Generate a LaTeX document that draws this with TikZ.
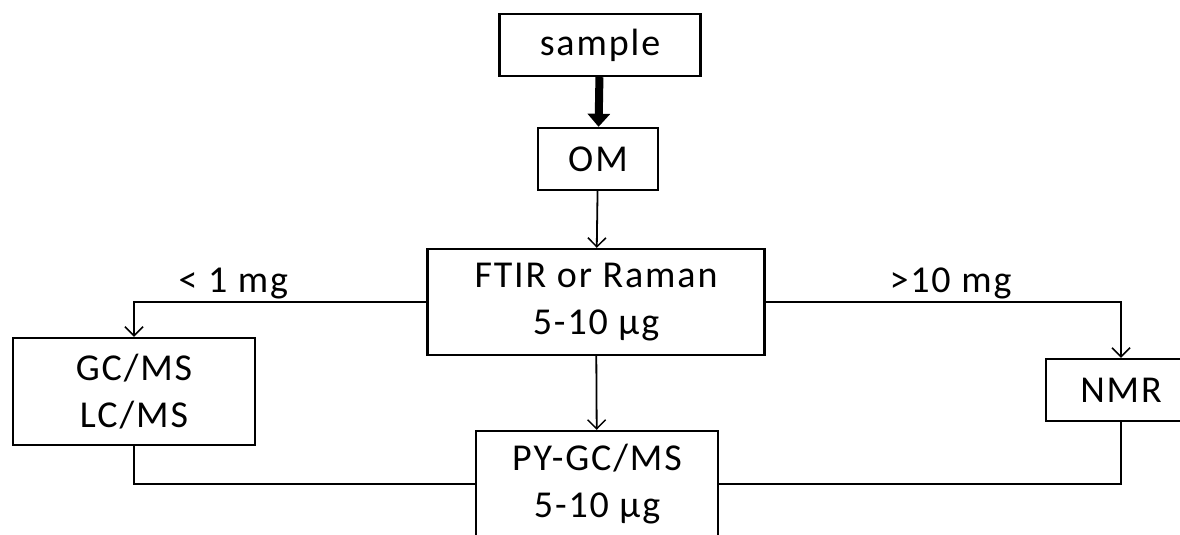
\documentclass[tikz,border=0pt]{standalone}
\usepackage{fontspec}
\setmainfont{Carlito}[LetterSpace=5]
\usepackage{tikz}
\usetikzlibrary{positioning,arrows.meta}

\begin{document}
\begin{tikzpicture}[x=1pt, y=-1pt,
		box/.style={draw, line width=2.4pt, rectangle, align=center, inner sep=0pt, font={\fontsize{38}{47}\selectfont}},
		flow/.style={line width=1.8pt, -{Straight Barb[length=9pt, width=18pt, line width=1.5pt]}},
		line/.style={line width=1.8pt},
		lbl/.style={font={\fontsize{38}{44}\selectfont}, inner sep=2pt}]
		\useasboundingbox (0,0) rectangle (1180,535);
		\node[box, minimum width=201pt, minimum height=62pt] (sample) at (600,45) {sample};
		\node[box, minimum width=120pt, minimum height=62pt] (om) at (598,159) {OM};
		\node[box, minimum width=337pt, minimum height=106pt] (ftir) at (596,302) {FTIR or Raman\\5-10 µg};
		\node[box, minimum width=242pt, minimum height=107pt] (gcms) at (134,391.5) {GC/MS\\LC/MS};
		\node[box, minimum width=150pt, minimum height=62pt] (nmr) at (1121,390) {NMR};
		\node[box, minimum width=242pt, minimum height=106pt] (py) at (597,484) {PY-GC/MS\\5-10 µg};
		
		\draw[line width=8pt, -{Triangle[length=13pt, width=22pt]}] (sample) -- (om);
		\draw[flow] (om) -- (ftir);
		\draw[flow] (ftir.west) -| (gcms.north) node[lbl, pos=0.33, above] {< 1 mg};
		\draw[flow] (ftir.east) -| (nmr.north) node[lbl, pos=0.26, above] {>10 mg};
		\draw[flow] (ftir) -- (py);
		\draw[line] (gcms.south) |- (py.west);
		\draw[line] (nmr.south) |- (py.east);
	\end{tikzpicture}
\end{document}
